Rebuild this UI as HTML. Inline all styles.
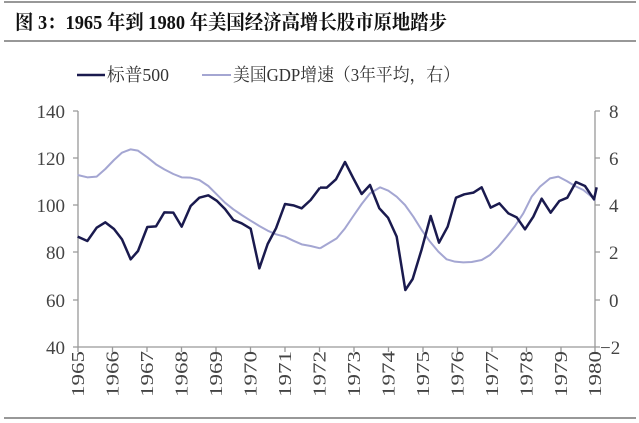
<!DOCTYPE html>
<html><head><meta charset="utf-8"><style>
html,body{margin:0;padding:0;background:#fff;}
svg{display:block;}
</style></head><body>
<svg width="639" height="423" viewBox="0 0 639 423" xmlns="http://www.w3.org/2000/svg">
<line x1="4" y1="2" x2="636" y2="2" stroke="#777" stroke-width="1.5"/>
<text x="15" y="29" font-family="'Liberation Serif','Noto Serif CJK SC',serif" font-weight="bold" font-size="20" fill="#111" textLength="432" lengthAdjust="spacingAndGlyphs">图 3：1965 年到 1980 年美国经济高增长股市原地踏步</text>
<line x1="4" y1="41" x2="636" y2="41" stroke="#777" stroke-width="1.5"/>
<line x1="4" y1="418" x2="636" y2="418" stroke="#777" stroke-width="1.5"/>
<g font-family="'Liberation Serif','Noto Serif CJK SC',serif" font-size="18" fill="#333">
<line x1="77" y1="75" x2="105" y2="75" stroke="#1a1a4e" stroke-width="2.5"/>
<text x="107" y="81" textLength="62" lengthAdjust="spacingAndGlyphs">标普500</text>
<line x1="202" y1="75" x2="231" y2="75" stroke="#a4a6d2" stroke-width="2"/>
<text x="233" y="81" textLength="227" lengthAdjust="spacingAndGlyphs">美国GDP增速（3年平均，右）</text>
</g>
<g stroke="#999" stroke-width="1.3" fill="none">
<line x1="78" y1="111" x2="78" y2="347"/>
<line x1="595" y1="111" x2="595" y2="347"/>
<line x1="78" y1="347" x2="595" y2="347"/>
<path d="M73 111H78M73 158H78M73 205H78M73 252H78M73 300H78M73 347H78"/>
<path d="M595 111H600M595 158H600M595 205H600M595 252H600M595 300H600M595 347H600"/>
<path d="M78 347v5M112.5 347v5M147 347v5M181.5 347v5M216 347v5M250.5 347v5M285 347v5M319.5 347v5M354 347v5M388.5 347v5M423 347v5M457.5 347v5M492 347v5M526.5 347v5M561 347v5M595 347v5"/>
</g>
<g font-family="'Liberation Serif',serif" font-size="19" fill="#444" text-anchor="end">
<text x="65" y="118">140</text><text x="65" y="165">120</text><text x="65" y="212">100</text><text x="65" y="259">80</text><text x="65" y="307">60</text><text x="65" y="354">40</text>
</g>
<g font-family="'Liberation Serif',serif" font-size="19" fill="#444">
<text x="609" y="118">8</text><text x="609" y="165">6</text><text x="609" y="212">4</text><text x="609" y="259">2</text><text x="609" y="307">0</text><text x="600" y="354">−2</text>
</g>
<g font-family="'Liberation Serif',serif" font-size="18" fill="#444" text-anchor="end">
<text transform="translate(84,351) rotate(-90)" textLength="46" lengthAdjust="spacingAndGlyphs">1965</text>
<text transform="translate(118.5,351) rotate(-90)" textLength="46" lengthAdjust="spacingAndGlyphs">1966</text>
<text transform="translate(153,351) rotate(-90)" textLength="46" lengthAdjust="spacingAndGlyphs">1967</text>
<text transform="translate(187.5,351) rotate(-90)" textLength="46" lengthAdjust="spacingAndGlyphs">1968</text>
<text transform="translate(222,351) rotate(-90)" textLength="46" lengthAdjust="spacingAndGlyphs">1969</text>
<text transform="translate(256.5,351) rotate(-90)" textLength="46" lengthAdjust="spacingAndGlyphs">1970</text>
<text transform="translate(291,351) rotate(-90)" textLength="46" lengthAdjust="spacingAndGlyphs">1971</text>
<text transform="translate(325.5,351) rotate(-90)" textLength="46" lengthAdjust="spacingAndGlyphs">1972</text>
<text transform="translate(360,351) rotate(-90)" textLength="46" lengthAdjust="spacingAndGlyphs">1973</text>
<text transform="translate(394.5,351) rotate(-90)" textLength="46" lengthAdjust="spacingAndGlyphs">1974</text>
<text transform="translate(429,351) rotate(-90)" textLength="46" lengthAdjust="spacingAndGlyphs">1975</text>
<text transform="translate(463.5,351) rotate(-90)" textLength="46" lengthAdjust="spacingAndGlyphs">1976</text>
<text transform="translate(498,351) rotate(-90)" textLength="46" lengthAdjust="spacingAndGlyphs">1977</text>
<text transform="translate(532.5,351) rotate(-90)" textLength="46" lengthAdjust="spacingAndGlyphs">1978</text>
<text transform="translate(567,351) rotate(-90)" textLength="46" lengthAdjust="spacingAndGlyphs">1979</text>
<text transform="translate(601,351) rotate(-90)" textLength="46" lengthAdjust="spacingAndGlyphs">1980</text>
</g>
<g fill="none" stroke-linejoin="round">
<g transform="translate(0,100) scale(0.33333)">
<polyline vector-effect="non-scaling-stroke" stroke="#a4a6d2" stroke-width="2" points="233,225 262,232 290,230 316,207 342,180 366,158 392,148 414,152 442,172 468,193 493,208 520,222 545,232 572,233 598,240 625,258 650,283 675,308 700,328 725,345 752,362 778,378 803,392 828,403 855,410 880,422 905,433 932,438 960,445"/>
<polyline vector-effect="non-scaling-stroke" stroke="#1a1a4e" stroke-width="2.5" points="233,410 262,423 290,383 316,367 342,387 366,418 392,478 414,453 442,381 468,379 493,337 520,338 545,380 572,318 598,293 625,286 650,302 675,327 700,360 725,370 752,386 778,505 803,432 828,385 855,312 880,316 905,325 932,300 960,263"/>
</g>
<g transform="translate(320,100) scale(0.33333)">
<polyline vector-effect="non-scaling-stroke" stroke="#a4a6d2" stroke-width="2" points="0,445 50,415 75,385 100,348 125,312 150,280 180,262 205,272 230,290 255,315 280,350 305,390 330,425 355,455 380,478 405,485 430,487 455,486 485,480 510,465 535,440 560,410 585,378 610,340 635,290 660,260 690,235 715,230 740,243 765,258 790,270 815,290 825,302"/>
<polyline vector-effect="non-scaling-stroke" stroke="#1a1a4e" stroke-width="2.5" points="0,263 20,263 48,238 75,186 100,235 125,282 150,255 178,325 204,353 230,410 256,570 278,537 305,448 332,348 357,428 383,380 408,293 433,283 460,278 485,262 512,323 538,310 565,340 590,352 615,388 640,350 665,296 692,338 718,303 742,293 768,246 795,258 822,298 830,262"/>
</g>
</g>
</svg>
</body></html>
